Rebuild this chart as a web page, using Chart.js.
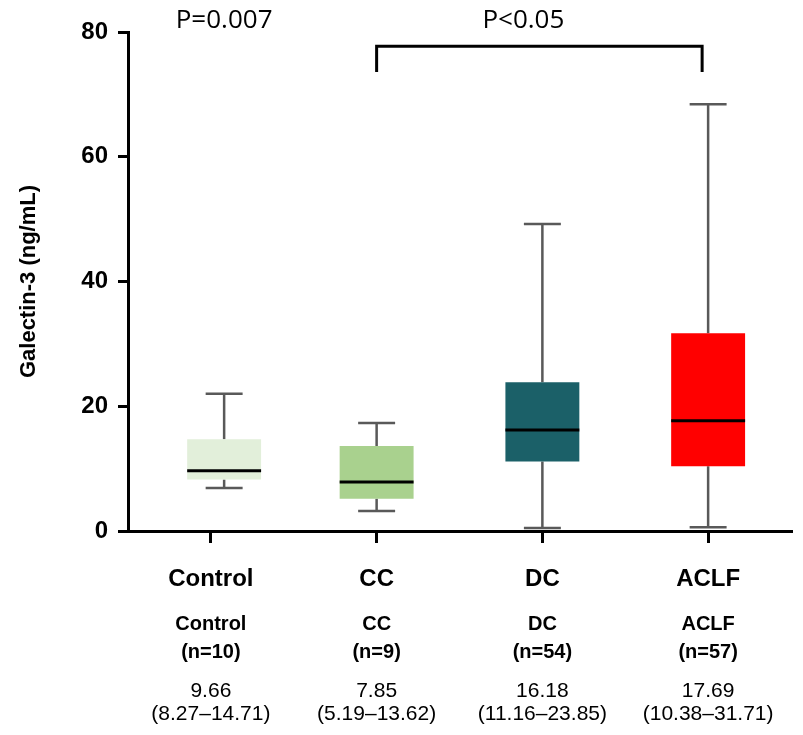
<!DOCTYPE html>
<html>
<head>
<meta charset="utf-8">
<script src="https://cdn.jsdelivr.net/npm/chart.js@4"></script>
<style>
  html, body { margin: 0; padding: 0; background: #fff; }
  #wrap { width: 803px; height: 735px; }
</style>
</head>
<body>
<div id="wrap"><canvas id="galectin-chart" width="803" height="735"></canvas></div>
<script>
// box plot of Galectin-3 by group
const groups = ['Control', 'CC', 'DC', 'ACLF'];
const groupN = ['(n=10)', '(n=9)', '(n=54)', '(n=57)'];
const medians = [9.66, 7.85, 16.18, 17.69];
const q1 = [8.27, 5.19, 11.16, 10.38];
const q3 = [14.71, 13.62, 23.85, 31.71];
const whiskerMin = [6.9, 3.2, 0.5, 0.6];
const whiskerMax = [22.0, 17.3, 49.2, 68.4];
const medianText = ['9.66', '7.85', '16.18', '17.69'];
const rangeText = ['(8.27–14.71)', '(5.19–13.62)', '(11.16–23.85)', '(10.38–31.71)'];
const boxColors = ['#e2efda', '#a9d18e', '#1b6068', '#ff0000'];
const yTicks = [0, 20, 40, 60, 80];

const axisFont = 'Liberation Sans, Arial, sans-serif';

// in the source figure the Control box sits a little right of its tick
function boxCenter(chart, i) {
    return chart.getDatasetMeta(0).data[i].x;
}

const boxPlugin = {
    id: 'boxParts',
    afterDatasetsUpdate(chart) {
        const x = chart.scales.x;
        const step = x.getPixelForValue(1) - x.getPixelForValue(0);
        const bar = chart.getDatasetMeta(0).data[0];
        bar.x = x.getPixelForValue(0) + step * 0.08;
    },
    beforeDatasetsDraw(chart) {
        const { ctx, scales: { y } } = chart;
        const meta = chart.getDatasetMeta(0);
        ctx.save();
        ctx.strokeStyle = '#595959';
        ctx.lineWidth = 2.5;
        groups.forEach((g, i) => {
            const cx = boxCenter(chart, i);
            const cap = meta.data[i].width * 0.5;
            ctx.beginPath();
            ctx.moveTo(cx, y.getPixelForValue(whiskerMax[i]));
            ctx.lineTo(cx, y.getPixelForValue(q3[i]));
            ctx.moveTo(cx, y.getPixelForValue(q1[i]));
            ctx.lineTo(cx, y.getPixelForValue(whiskerMin[i]));
            ctx.moveTo(cx - cap / 2, y.getPixelForValue(whiskerMax[i]));
            ctx.lineTo(cx + cap / 2, y.getPixelForValue(whiskerMax[i]));
            ctx.moveTo(cx - cap / 2, y.getPixelForValue(whiskerMin[i]));
            ctx.lineTo(cx + cap / 2, y.getPixelForValue(whiskerMin[i]));
            ctx.stroke();
        });
        ctx.restore();
    },
    afterDatasetsDraw(chart) {
        const { ctx, scales: { y } } = chart;
        const meta = chart.getDatasetMeta(0);
        ctx.save();
        ctx.strokeStyle = '#000';
        ctx.lineWidth = 3;
        groups.forEach((g, i) => {
            const cx = boxCenter(chart, i);
            const half = meta.data[i].width / 2;
            const py = y.getPixelForValue(medians[i]);
            ctx.beginPath();
            ctx.moveTo(cx - half, py);
            ctx.lineTo(cx + half, py);
            ctx.stroke();
        });
        ctx.restore();
    },
    afterDraw(chart) {
        const { ctx, scales: { x, y } } = chart;
        ctx.save();
        // bracket CC vs ACLF
        const left = x.getPixelForValue(1);
        const right = x.getPixelForValue(3) - 6;
        const top = y.getPixelForValue(77.7);
        const leg = y.getPixelForValue(73.6);
        ctx.strokeStyle = '#000';
        ctx.lineWidth = 3;
        ctx.beginPath();
        ctx.moveTo(left, leg);
        ctx.lineTo(left, top);
        ctx.lineTo(right, top);
        ctx.lineTo(right, leg);
        ctx.stroke();

        ctx.fillStyle = '#000';
        ctx.font = '26px "Open Sans", sans-serif';
        ctx.textAlign = 'center';
        ctx.textBaseline = 'middle';
        const ty = y.getPixelForValue(81.9);
        ctx.fillText('P=0.007', boxCenter(chart, 0), ty);
        ctx.fillText('P<0.05', (left + right) / 2 - 16, ty);
        ctx.restore();
    }
};

new Chart(document.getElementById('galectin-chart'), {
    type: 'bar',
    data: {
        labels: groups,
        datasets: [{
            label: 'Galectin-3',
            data: groups.map((g, i) => [q1[i], q3[i]]),
            backgroundColor: boxColors,
            borderWidth: 0,
            barPercentage: 0.446,
            categoryPercentage: 1
        }]
    },
    options: {
        responsive: false,
        animation: false,
        layout: { padding: { top: 32, right: 12, bottom: 1, left: 0 } },
        plugins: {
            legend: { display: false },
            tooltip: { enabled: false }
        },
        scales: {
            x: {
                position: 'bottom',
                weight: 0,
                offset: true,
                afterFit: s => { s.height = 70; },
                border: { display: true, color: '#000', width: 3 },
                grid: {
                    offset: false,
                    drawOnChartArea: false,
                    drawTicks: true,
                    tickLength: 12,
                    color: '#000',
                    lineWidth: 3
                },
                ticks: {
                    color: '#000',
                    padding: 22,
                    maxRotation: 0,
                    font: { family: axisFont, size: 24, weight: 'bold' }
                }
            },
            x2: {
                type: 'category',
                axis: 'x',
                position: 'bottom',
                weight: 1,
                offset: true,
                labels: groups.map((g, i) => [g, groupN[i]]),
                afterFit: s => { s.height = 65; },
                border: { display: false },
                grid: { display: false, drawTicks: false },
                ticks: {
                    color: '#000',
                    padding: 9,
                    maxRotation: 0,
                    font: { family: axisFont, size: 20, weight: 'bold', lineHeight: 1.4 }
                }
            },
            x3: {
                type: 'category',
                axis: 'x',
                position: 'bottom',
                weight: 2,
                offset: true,
                labels: groups.map((g, i) => [medianText[i], rangeText[i]]),
                afterFit: s => { s.height = 68; },
                border: { display: false },
                grid: { display: false, drawTicks: false },
                ticks: {
                    color: '#000',
                    padding: 14,
                    maxRotation: 0,
                    font: { family: axisFont, size: 21, lineHeight: 1.1 }
                }
            },
            y: {
                min: 0,
                max: 80,
                afterFit: s => { s.width = 128; },
                afterBuildTicks: s => { s.ticks = yTicks.map(v => ({ value: v })); },
                border: { display: true, color: '#000', width: 3 },
                grid: {
                    drawOnChartArea: false,
                    drawTicks: true,
                    tickLength: 10,
                    color: '#000',
                    lineWidth: 3
                },
                ticks: {
                    color: '#000',
                    padding: 10,
                    font: { family: axisFont, size: 24, weight: 'bold' }
                },
                title: {
                    display: true,
                    text: 'Galectin-3 (ng/mL)',
                    color: '#000',
                    padding: { top: 16, bottom: 0 },
                    font: { family: axisFont, size: 22, weight: 'bold' }
                }
            }
        }
    },
    plugins: [boxPlugin]
});
</script>
</body>
</html>
